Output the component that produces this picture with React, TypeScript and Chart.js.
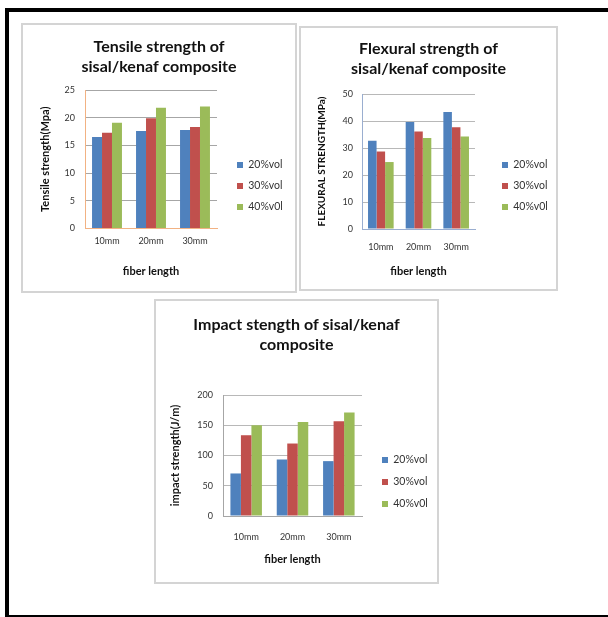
import React, { useEffect, useRef } from "react";
import { Chart, registerables } from "chart.js";

Chart.register(...registerables);

// ---- data ----
const fiberLengths = ["10mm", "20mm", "30mm"];
const seriesNames = ["20%vol", "30%vol", "40%v0l"];
const seriesColors = ["#4F81BD", "#C0504D", "#9BBB59"];

const tensile20 = [16.5, 17.6, 17.8];
const tensile30 = [17.3, 19.9, 18.3];
const tensile40 = [19.1, 21.8, 22.0];

const flexural20 = [32.7, 39.6, 43.3];
const flexural30 = [28.7, 36.1, 37.7];
const flexural40 = [24.8, 33.7, 34.3];

const impact20 = [70.3, 93.4, 90.7];
const impact30 = [133.5, 119.8, 156.6];
const impact40 = [150, 155.5, 170.9];

const tensileAxis = { max: 25, step: 5 };
const flexuralAxis = { max: 50, step: 10 };
const impactAxis = { max: 200, step: 50 };

const FONT = "Lato, 'Open Sans', 'DejaVu Sans', sans-serif";

type Spec = {
  box: { x: number; y: number; w: number; h: number };
  plot: { l: number; t: number; r: number; b: number };
  title: string[];
  titleLine1: number;
  yTitle: string;
  yTitleSize: number;
  yTitleX: number;
  yTickPad: number;
  xLabelY: number;
  xTitleY: number;
  legend: { x: number; y: number; gap: number };
  axis: { max: number; step: number };
  series: number[][];
  axisColor: string;
  gridColor: string;
};

const TITLE_SIZE = 16;
const TITLE_LH = 20;
const TICK_SIZE = 9;
const AXTITLE_SIZE = 11;
const LEG_SIZE = 10.5;

function BarPanel({ spec }: { spec: Spec }) {
  const ref = useRef<HTMLCanvasElement | null>(null);
  useEffect(() => {
    const canvas = ref.current!;
    const { box, plot } = spec;
    const W = box.w;
    const H = box.h;
    const titlePadTop = spec.titleLine1 - TITLE_LH / 2;
    const titlePadBottom = plot.t - titlePadTop - TITLE_LH * spec.title.length;
    const axLH = AXTITLE_SIZE * 1.2;
    const yLH = spec.yTitleSize * 1.2;
    const tickLH = TICK_SIZE * 1.2;
    const legendItemH = Math.max(LEG_SIZE, 7);
    const legendPad = spec.legend.gap - legendItemH;

    const legendPlacer = {
      id: "legendPlacer",
      afterLayout(chart: any) {
        const lg = chart.legend;
        if (!lg) return;
        const w = lg.width;
        const h = lg.height;
        lg.left = spec.legend.x - legendPad;
        lg.right = lg.left + w;
        lg.top = spec.legend.y - legendPad - legendItemH / 2;
        lg.bottom = lg.top + h;
      },
    };

    const chart = new Chart(canvas, {
      type: "bar",
      data: {
        labels: fiberLengths,
        datasets: spec.series.map((vals, i) => ({
          label: seriesNames[i],
          data: vals,
          backgroundColor: seriesColors[i],
          borderWidth: 0,
          categoryPercentage: 0.68,
          barPercentage: 1.0,
        })),
      },
      options: {
        animation: false,
        responsive: false,
        maintainAspectRatio: false,
        devicePixelRatio: 1,
        layout: { padding: 0 },
        plugins: {
          tooltip: { enabled: false },
          title: {
            display: true,
            text: spec.title,
            color: "#111",
            font: { family: FONT, size: TITLE_SIZE, weight: "bold", lineHeight: TITLE_LH / TITLE_SIZE },
            padding: { top: titlePadTop, bottom: titlePadBottom },
          },
          legend: {
            display: true,
            position: "chartArea",
            align: "start",
            labels: {
              boxWidth: 6,
              boxHeight: 6,
              padding: legendPad,
              color: "#333",
              textAlign: "left",
              font: { family: FONT, size: LEG_SIZE },
            },
          },
        },
        scales: {
          x: {
            grid: { display: false, drawTicks: false },
            border: { display: true, color: spec.axisColor, width: 1 },
            ticks: {
              color: "#333",
              padding: spec.xLabelY - plot.b - tickLH / 2,
              font: { family: FONT, size: TICK_SIZE },
            },
            title: {
              display: true,
              text: "fiber length",
              color: "#111",
              font: { family: FONT, size: AXTITLE_SIZE, weight: "bold" },
              padding: { top: 0, bottom: H - spec.xTitleY - axLH / 2 },
            },
            afterFit: (s: any) => {
              s.height = H - plot.b;
            },
          },
          y: {
            min: 0,
            max: spec.axis.max,
            grid: { color: spec.gridColor, drawTicks: false, lineWidth: 1 },
            border: { display: true, color: spec.axisColor, width: 1 },
            ticks: {
              stepSize: spec.axis.step,
              color: "#333",
              padding: spec.yTickPad,
              font: { family: FONT, size: TICK_SIZE },
            },
            title: {
              display: true,
              text: spec.yTitle,
              color: "#111",
              font: { family: FONT, size: spec.yTitleSize, weight: "bold" },
              padding: { top: spec.yTitleX - yLH / 2, bottom: 0 },
            },
            afterFit: (s: any) => {
              s.width = plot.l;
            },
          },
          // spacer on the right side that reserves room for the legend column
          legendSpace: {
            type: "linear",
            position: "right",
            display: true,
            grid: { display: false, drawTicks: false },
            border: { display: false },
            ticks: { display: false },
            afterFit: (s: any) => {
              s.width = W - plot.r;
            },
          },
        },
      } as any,
      plugins: [legendPlacer],
    });
    return () => chart.destroy();
  }, [spec]);

  const { box } = spec;
  return (
    <>
      <canvas
        ref={ref}
        width={box.w}
        height={box.h}
        style={{ position: "absolute", left: box.x, top: box.y, width: box.w, height: box.h, background: "#fff" }}
      />
      <div
        style={{
          position: "absolute",
          left: box.x - 1,
          top: box.y - 1,
          width: box.w + 2,
          height: box.h + 2,
          boxSizing: "border-box",
          border: "2px solid #d4d4d4",
          pointerEvents: "none",
        }}
      />
    </>
  );
}

const specs: Spec[] = [
  {
    box: { x: 22, y: 24, w: 274, h: 268 },
    plot: { l: 63, t: 66, r: 195, b: 204.5 },
    title: ["Tensile strength of", "sisal/kenaf composite"],
    titleLine1: 23,
    yTitle: "Tensile strength(Mpa)",
    yTitleSize: 11,
    yTitleX: 23,
    yTickPad: 10,
    xLabelY: 217,
    xTitleY: 247,
    legend: { x: 215, y: 141, gap: 21 },
    axis: tensileAxis,
    series: [tensile20, tensile30, tensile40],
    axisColor: "#f2b283",
    gridColor: "#a6a6a6",
  },
  {
    box: { x: 300, y: 27, w: 257, h: 263 },
    plot: { l: 62, t: 67, r: 175, b: 202 },
    title: ["Flexural strength of", "sisal/kenaf composite"],
    titleLine1: 22,
    yTitle: "FLEXURAL STRENGTH(MPa)",
    yTitleSize: 10,
    yTitleX: 22,
    yTickPad: 9,
    xLabelY: 220,
    xTitleY: 244,
    legend: { x: 202, y: 138, gap: 21 },
    axis: flexuralAxis,
    series: [flexural20, flexural30, flexural40],
    axisColor: "#9aaed0",
    gridColor: "#b8b8b8",
  },
  {
    box: { x: 155, y: 300, w: 283, h: 283 },
    plot: { l: 68, t: 95, r: 207, b: 216 },
    title: ["Impact stength of sisal/kenaf", "composite"],
    titleLine1: 25,
    yTitle: "impact strength(J/m)",
    yTitleSize: 11,
    yTitleX: 20,
    yTickPad: 10,
    xLabelY: 237,
    xTitleY: 259,
    legend: { x: 227, y: 160, gap: 22 },
    axis: impactAxis,
    series: [impact20, impact30, impact40],
    axisColor: "#a6a6a6",
    gridColor: "#b8b8b8",
  },
];

export default function App() {
  return (
    <div style={{ position: "absolute", left: 0, top: 0, width: 608, height: 617, background: "#fff", overflow: "hidden" }}>
      <div style={{ position: "absolute", left: 5, top: 8, width: 603, height: 4, background: "#000" }} />
      <div style={{ position: "absolute", left: 5, top: 8, width: 4, height: 609, background: "#000" }} />
      <div style={{ position: "absolute", left: 5, top: 615, width: 603, height: 2, background: "#000" }} />
      {specs.map((s, i) => (
        <BarPanel key={i} spec={s} />
      ))}
    </div>
  );
}
